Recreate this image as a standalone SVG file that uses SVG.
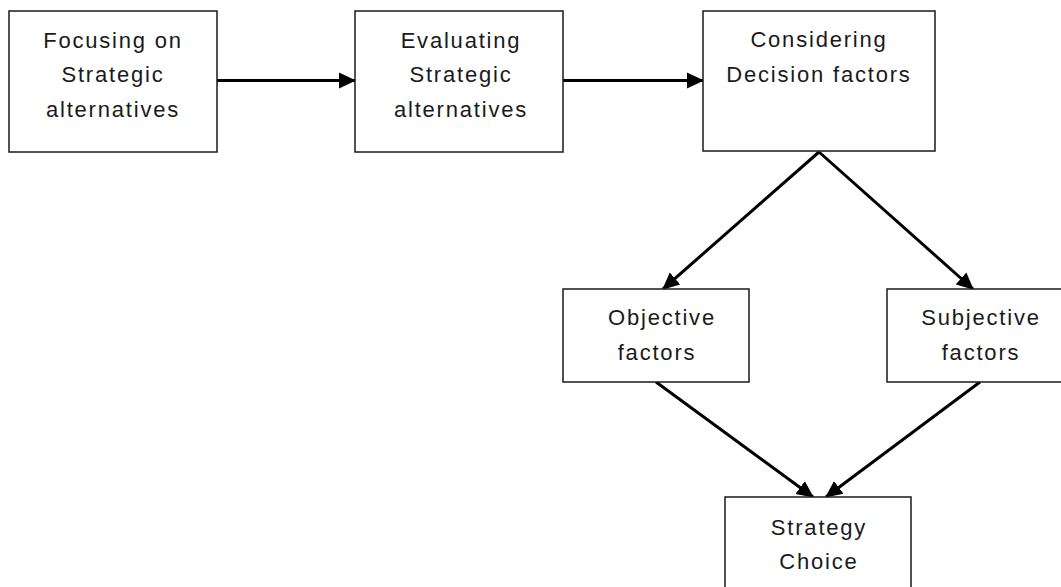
<svg xmlns="http://www.w3.org/2000/svg" width="1061" height="587" viewBox="0 0 1061 587">
<style>
.box{fill:#fff;stroke:#1a1a1a;stroke-width:1.5}
.t{font-family:"Liberation Sans",Arial,sans-serif;font-size:22px;fill:#1a1a1a;text-anchor:middle;letter-spacing:1.8px}
.c{stroke:#000;stroke-width:3;fill:none;marker-end:url(#ah)}
</style>
<defs>
<marker id="ah" markerUnits="userSpaceOnUse" markerWidth="18" markerHeight="18" viewBox="0 0 18 18" refX="16" refY="9" orient="auto">
<path d="M0,1 L17,9 L0,17 Z" fill="#000"/>
</marker>
</defs>
<rect width="1061" height="587" fill="#fff"/>
<g id="connectors">
<line class="c" x1="217" y1="80.5" x2="355" y2="80.5"/>
<line class="c" x1="563" y1="80.5" x2="703" y2="80.5"/>
<line class="c" x1="819" y1="152" x2="663" y2="289"/>
<line class="c" x1="819" y1="152" x2="973" y2="289"/>
<line class="c" x1="656" y1="382" x2="813" y2="497"/>
<line class="c" x1="980" y1="382" x2="826" y2="497"/>
</g>
<g id="n1">
<rect class="box" x="9" y="11" width="208" height="141"/>
<text class="t" x="113" y="48">Focusing on</text>
<text class="t" x="113" y="82">Strategic</text>
<text class="t" x="113" y="117">alternatives</text>
</g>
<g id="n2">
<rect class="box" x="355" y="11" width="208" height="141"/>
<text class="t" x="461" y="48">Evaluating</text>
<text class="t" x="461" y="82">Strategic</text>
<text class="t" x="461" y="117">alternatives</text>
</g>
<g id="n3">
<rect class="box" x="703" y="11" width="232" height="140"/>
<text class="t" x="819" y="47">Considering</text>
<text class="t" x="819" y="82">Decision factors</text>
</g>
<g id="n4">
<rect class="box" x="563" y="289" width="186" height="93"/>
<text class="t" x="662" y="325">Objective</text>
<text class="t" x="657" y="360">factors</text>
</g>
<g id="n5">
<rect class="box" x="887" y="289" width="186" height="93"/>
<text class="t" x="981" y="325">Subjective</text>
<text class="t" x="981" y="360">factors</text>
</g>
<g id="n6">
<rect class="box" x="725" y="497" width="186" height="100"/>
<text class="t" x="819" y="535">Strategy</text>
<text class="t" x="819" y="569">Choice</text>
</g>
</svg>
